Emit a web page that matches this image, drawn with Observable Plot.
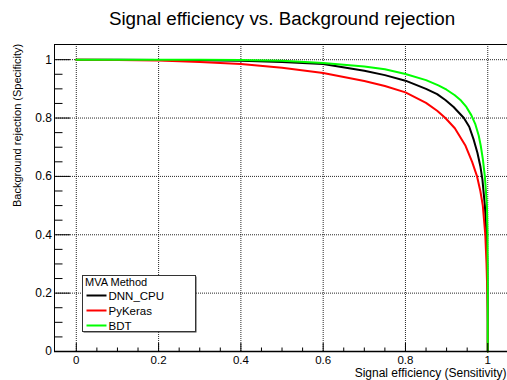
<!DOCTYPE html>
<html><head><meta charset="utf-8">
<script src="https://cdn.jsdelivr.net/npm/d3@7"></script>
<script src="https://cdn.jsdelivr.net/npm/@observablehq/plot@0.6"></script>
<style>
html,body{margin:0;padding:0;background:#fff;}
#chart{width:507px;height:380px;overflow:hidden;}
</style></head><body><div id="chart"></div>
<script>
// ---- text ----
const title = "Signal efficiency vs. Background rejection";
const xLabel = "Signal efficiency (Sensitivity)";
const yLabel = "Background rejection (Specificity)";
const legendTitle = "MVA Method";

// ---- series ----
const methods = ["DNN_CPU", "PyKeras", "BDT"];
const methodColors = ["#000000", "#ff0000", "#00ff00"];

const dnnEff = [0, 0.1, 0.2, 0.3, 0.4, 0.5, 0.6, 0.7, 0.75, 0.8, 0.85, 0.877, 0.897, 0.917, 0.942, 0.955, 0.966, 0.975, 0.982, 0.987, 0.993, 0.997, 0.999, 1, 1];
const dnnRej = [1, 1, 0.999, 0.998, 0.996, 0.992, 0.985, 0.962, 0.947, 0.928, 0.9, 0.882, 0.862, 0.838, 0.8, 0.77, 0.725, 0.68, 0.635, 0.59, 0.5, 0.4, 0.3, 0.15, 0];

const kerasEff = [0, 0.1, 0.2, 0.3, 0.4, 0.5, 0.6, 0.7, 0.75, 0.8, 0.85, 0.877, 0.897, 0.92, 0.946, 0.962, 0.974, 0.982, 0.988, 0.994, 0.997, 0.999, 1, 1];
const kerasRej = [1, 0.999, 0.997, 0.992, 0.985, 0.972, 0.954, 0.927, 0.91, 0.888, 0.852, 0.825, 0.8, 0.765, 0.705, 0.65, 0.6, 0.55, 0.5, 0.4, 0.3, 0.2, 0.1, 0];

const bdtEff = [0, 0.2, 0.3, 0.4, 0.5, 0.6, 0.7, 0.75, 0.8, 0.85, 0.88, 0.9, 0.92, 0.935, 0.948, 0.96, 0.97, 0.978, 0.983, 0.988, 0.993, 0.998, 0.9995, 1, 1];
const bdtRej = [1, 1, 1, 0.999, 0.996, 0.989, 0.977, 0.967, 0.951, 0.93, 0.912, 0.897, 0.878, 0.86, 0.838, 0.81, 0.778, 0.74, 0.705, 0.66, 0.6, 0.5, 0.4, 0.25, 0];

// ---- axes ----
const xDomain = [-0.053, 1.048];
const yDomain = [0, 1.052];
const xTicks = [0, 0.2, 0.4, 0.6, 0.8, 1];
const xTickLabels = ["0", "0.2", "0.4", "0.6", "0.8", "1"];
const xMinor = [0.05, 0.1, 0.15, 0.25, 0.3, 0.35, 0.45, 0.5, 0.55, 0.65, 0.7, 0.75, 0.85, 0.9, 0.95];
const yTicks = [0, 0.2, 0.4, 0.6, 0.8, 1];
const yTickLabels = ["0", "0.2", "0.4", "0.6", "0.8", "1"];
const yMinor = [0.05, 0.1, 0.15, 0.25, 0.3, 0.35, 0.45, 0.5, 0.55, 0.65, 0.7, 0.75, 0.85, 0.9, 0.95];

// ---- build table ----
const seriesEff = [dnnEff, kerasEff, bdtEff];
const seriesRej = [dnnRej, kerasRej, bdtRej];
const rows = [];
methods.forEach((m, i) => seriesEff[i].forEach((e, j) => rows.push({method: m, eff: e, rej: seriesRej[i][j]})));

const font = "'Liberation Sans', Arial, Helvetica, sans-serif";
const grid = {stroke: "#000", strokeOpacity: 0.85, strokeDasharray: "1,1", strokeWidth: 1};
const tickOnly = {fill: "none", stroke: "#000", strokeWidth: 1, label: null};

const chart = Plot.plot({
  width: 507, height: 380,
  marginLeft: 54, marginRight: 0, marginTop: 44, marginBottom: 29,
  style: {fontFamily: font, background: "#fff", color: "#000", overflow: "visible"},
  x: {domain: xDomain, label: null},
  y: {domain: yDomain, label: null},
  color: {domain: methods, range: methodColors},
  marks: [
    Plot.gridX(xTicks, grid),
    Plot.gridY(yTicks, grid),
    Plot.line(rows, {x: "eff", y: "rej", z: "method", stroke: "method", strokeWidth: 2, curve: "linear"}),
    // frame lines
    Plot.ruleY([yDomain[1]], {stroke: "#000", strokeWidth: 1}),
    Plot.ruleX([xDomain[0]], {stroke: "#000", strokeWidth: 1}),
    Plot.ruleY([0], {stroke: "#000", strokeWidth: 1.5}),
    // ticks pointing inward
    Plot.axisX(xTicks, {anchor: "top", frameAnchor: "bottom", tickSize: 9, ...tickOnly}),
    Plot.axisX(xMinor, {anchor: "top", frameAnchor: "bottom", tickSize: 4.5, ...tickOnly}),
    Plot.axisY(yTicks, {anchor: "right", frameAnchor: "left", tickSize: 15, ...tickOnly}),
    Plot.axisY(yMinor, {anchor: "right", frameAnchor: "left", tickSize: 7.5, ...tickOnly}),
    // tick labels
    Plot.axisX(xTicks, {anchor: "bottom", tickSize: 0, tickPadding: 4.5, fontSize: 11.5, tickFormat: d => xTickLabels[xTicks.indexOf(d)], label: null}),
    Plot.axisY(yTicks, {anchor: "left", tickSize: 0, tickPadding: 2.5, fontSize: 12, tickFormat: d => yTickLabels[yTicks.indexOf(d)], label: null}),
    // titles
    Plot.text([title], {frameAnchor: "top", dx: 1, dy: -20, lineAnchor: "bottom", fontSize: 18.8, fill: "#000"}),
    Plot.text([xLabel], {frameAnchor: "bottom-right", textAnchor: "end", lineAnchor: "bottom", dx: -1, dy: 25, fontSize: 12, fill: "#000"}),
    Plot.text([yLabel], {frameAnchor: "top-left", textAnchor: "end", lineAnchor: "bottom", rotate: -90, dx: -33.3, dy: -0.7, fontSize: 11, fill: "#000"})
  ]
});
document.getElementById("chart").appendChild(chart);

// ---- legend ----
const svg = d3.select(chart);
const lg = svg.append("g").attr("font-family", font).attr("text-anchor", "start");
const bx = 82.5, by = 275.5, bw = 113, bh = 56;
lg.append("rect").attr("x", bx + 1).attr("y", by + 1).attr("width", bw).attr("height", bh).attr("fill", "#444");
lg.append("rect").attr("x", bx).attr("y", by).attr("width", bw).attr("height", bh).attr("fill", "#fff").attr("stroke", "#333").attr("stroke-width", 1);
lg.append("text").attr("x", bx + 2.5).attr("y", by + 10).attr("font-size", 11).attr("fill", "#000").text(legendTitle);
methods.forEach((m, i) => {
  const yy = by + 20 + i * 15;
  lg.append("line").attr("x1", bx + 4).attr("x2", bx + 24).attr("y1", yy).attr("y2", yy)
    .attr("stroke", methodColors[i]).attr("stroke-width", 2);
  lg.append("text").attr("x", bx + 26).attr("y", yy + 4).attr("font-size", 11.5).attr("fill", "#000").text(m);
});
</script>
</body></html>
